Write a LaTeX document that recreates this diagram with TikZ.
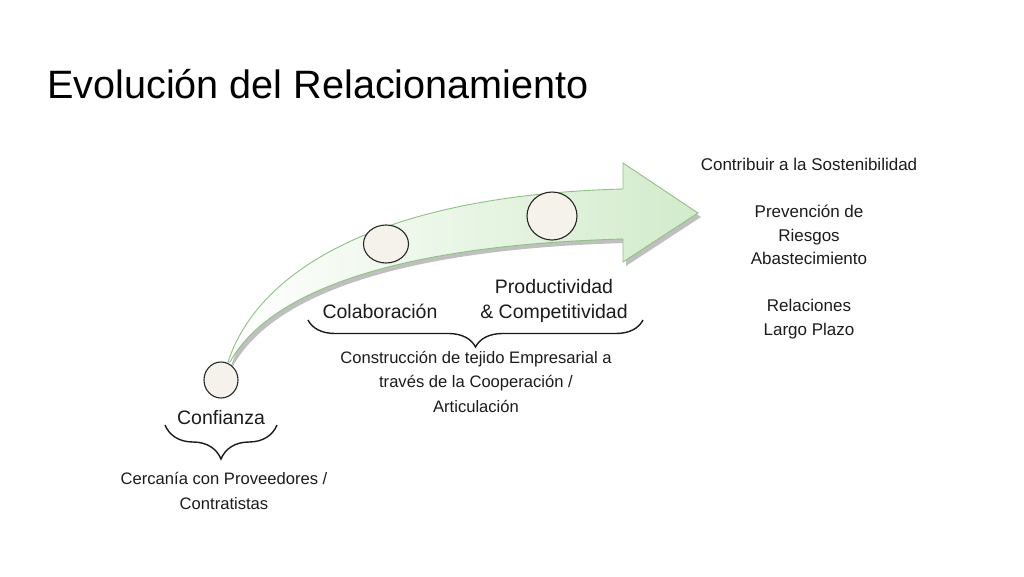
\documentclass[tikz,border=0pt]{standalone}
\usepackage{fontspec}
\setmainfont{Liberation Sans}
\usetikzlibrary{shapes.geometric}
\usetikzlibrary{decorations.pathreplacing}
\definecolor{leafgreen}{HTML}{8DC282}
\definecolor{mintfill}{HTML}{D2EBCB}
\definecolor{creamdot}{HTML}{F4F2EA}
\definecolor{inkgray}{HTML}{1C1C1C}

\begin{document}
\begin{tikzpicture}[x=1pt, y=-1pt,
    stage/.style={font=\fontsize{19.5}{25}\selectfont, text=inkgray,
      inner sep=0pt, align=center, anchor=base},
    note/.style={font=\fontsize{16.6}{24.5}\selectfont, text=inkgray,
      inner sep=0pt, align=center, anchor=base},
    dot/.style={ellipse, draw=black!85, line width=1.1pt, fill=creamdot,
      inner sep=0pt},
    curly/.style={decorate, decoration={brace, mirror, amplitude=#1},
      line width=1.4pt, draw=inkgray}]

    \useasboundingbox[fill=white] (0,0) rectangle (1024,576);

    \node[anchor=base west, inner sep=0pt,
      font=\fontsize{39.6}{44}\selectfont] (title) at (47,98)
      {Evolución del Relacionamiento};

    % curved arrow with its shadow
    \fill[black!25, shift={(3,4)}] (228,362)
      .. controls (260,265) and (390,195) .. (623,189)
      -- (623,163) -- (698,213) -- (623,262) -- (623,239)
      .. controls (400,245) and (270,290) .. (230,362) -- cycle;
    \shadedraw[left color=white, right color=mintfill, draw=leafgreen,
      line width=0.9pt] (228,362)
      .. controls (260,265) and (390,195) .. (623,189)
      -- (623,163) -- (698,213) -- (623,262) -- (623,239)
      .. controls (400,245) and (270,290) .. (230,362) -- cycle;

    \node[dot, minimum width=34pt, minimum height=36pt] (trust) at (221,380) {};
    \node[dot, minimum width=45pt, minimum height=38pt] (collab) at (386,244) {};
    \node[dot, minimum width=50pt, minimum height=48pt] (product) at (552,216) {};

    \node[stage] (trustlbl) at (221,424) {Confianza};
    \node[stage] (collablbl) at (380,318) {Colaboración};
    \node[stage] (prodlbl) at (554,318) {Productividad\\\& Competitividad};

    % braces
    \coordinate (trustL) at (165,425);
    \coordinate (trustR) at (277,425);
    \draw[curly=34pt] (trustL) -- (trustR);
    \coordinate (buildL) at (308,320);
    \coordinate (buildR) at (643,320);
    \draw[curly=27pt] (buildL) -- (buildR);

    \node[note] (buildtxt) at (476,412)
      {Construcción de tejido Empresarial a\\través de la Cooperación /\\Articulación};
    \node[note] (trusttxt) at (224,509)
      {Cercanía con Proveedores /\\Contratistas};

    \node[note, font=\fontsize{17}{23.5}\selectfont] (goals) at (809,335)
      {Contribuir a la Sostenibilidad\\[23.5pt]Prevención de\\Riesgos\\Abastecimiento\\[23.5pt]Relaciones\\Largo Plazo};

  \end{tikzpicture}
\end{document}
